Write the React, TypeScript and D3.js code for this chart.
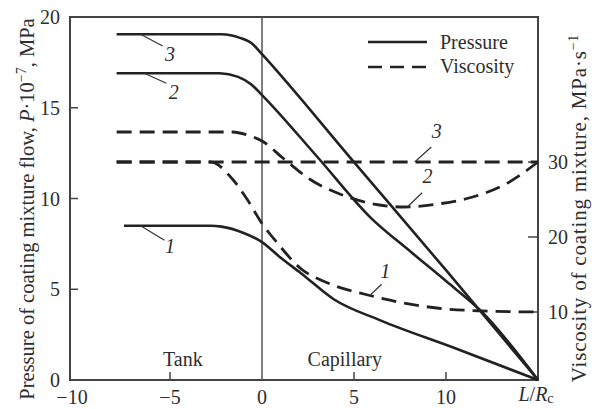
import React, { useEffect, useRef } from 'react';
import * as d3 from 'd3';

// tick values
const xTicks = [-10, -5, 0, 5, 10];
const pressureTicks = [0, 5, 10, 15, 20];
const viscosityTicks = [10, 20, 30];

// pressure curves, [L/Rc, P·10^-7 MPa]
const pressure1: [number, number][] = [
  [-7.5, 8.5], [-2.8, 8.5], [-2.2, 8.45], [-1, 8.1], [0, 7.6], [1, 6.75], [2.1, 5.9],
  [3.9, 4.45], [6.4, 3.3], [10.5, 1.75], [15, 0],
];
const pressure2: [number, number][] = [
  [-7.9, 16.9], [-2.3, 16.9], [-1.3, 16.7], [-0.6, 16.3], [0, 15.7], [3, 12.3],
  [5.9, 8.95], [8.1, 7.05], [10, 5.45], [11.9, 3.8], [15, 0],
];
const pressure3: [number, number][] = [
  [-7.9, 19.05], [-2.2, 19.05], [-1.2, 18.85], [-0.5, 18.5], [0, 17.95], [5, 12.0],
  [10, 6.05], [15, 0],
];

// viscosity curves, [L/Rc, MPa·s^-1]
const viscosity1: [number, number][] = [
  [-7.9, 30], [-2.8, 30], [-1.6, 27.7], [-0.8, 25], [0, 21.8], [0.8, 19.3], [2.1, 15.8],
  [3.55, 13.9], [5.7, 12.3], [7.5, 11.3], [9.6, 10.5], [11.9, 10.15], [15, 10],
];
const viscosity2: [number, number][] = [
  [-7.9, 34], [-1.6, 34], [-0.8, 33.6], [0, 32.8], [1.15, 30.5], [2.6, 27.7], [4.26, 25.7],
  [6.3, 24.3], [7.7, 24.0], [9.56, 24.4], [11.4, 25.3], [13.2, 27.0], [15, 30],
];
const viscosity3: [number, number][] = [[-7.9, 30], [15, 30]];

const FONT = '"Liberation Serif", "Times New Roman", serif';
const INK = '#2e2e2e';

const App = () => {
  const svgRef = useRef<SVGSVGElement>(null);

  useEffect(() => {
    const svg = d3.select(svgRef.current);
    svg.selectAll('*').remove();

    const left = 70, right = 538, top = 17, bottom = 380;

    const x = d3.scaleLinear().domain([0, 15]).range([262, 538]);
    const yP = d3.scaleLinear().domain([0, 20]).range([bottom, top]);
    const yV = d3.scaleLinear().domain([10, 30]).range([312, 162]);

    svg.append('rect').attr('width', 592).attr('height', 409).attr('fill', '#fff');

    // frame
    svg.append('rect')
      .attr('x', left).attr('y', top)
      .attr('width', right - left).attr('height', bottom - top)
      .attr('fill', 'none').attr('stroke', '#444').attr('stroke-width', 2);

    // tank / capillary divider
    svg.append('line')
      .attr('x1', x(0)).attr('x2', x(0)).attr('y1', top).attr('y2', bottom)
      .attr('stroke', '#555').attr('stroke-width', 1.5);

    // x ticks (inward)
    svg.append('g').selectAll('line')
      .data(xTicks.filter(d => d !== 0 && d !== -10))
      .enter().append('line')
      .attr('x1', d => x(d)).attr('x2', d => x(d))
      .attr('y1', bottom).attr('y2', bottom - 8)
      .attr('stroke', '#444').attr('stroke-width', 1.5);

    svg.append('g').selectAll('text')
      .data(xTicks)
      .enter().append('text')
      .attr('x', d => (d === -10 ? left + 2 : x(d)))
      .attr('y', 404)
      .attr('text-anchor', 'middle')
      .attr('font-family', FONT).attr('font-size', 20).attr('fill', INK)
      .text(d => (d < 0 ? '\u2212' + Math.abs(d) : String(d)));

    // L/Rc label
    const lr = svg.append('text')
      .attr('x', 536).attr('y', 401).attr('text-anchor', 'middle')
      .attr('font-family', FONT).attr('font-size', 20).attr('fill', INK);
    lr.append('tspan').attr('font-style', 'italic').text('L');
    lr.append('tspan').text('/');
    lr.append('tspan').attr('font-style', 'italic').text('R');
    lr.append('tspan').attr('font-size', 14).attr('dy', 2).text('c');

    // left axis ticks
    svg.append('g').selectAll('line')
      .data(pressureTicks.filter(d => d > 0 && d < 20))
      .enter().append('line')
      .attr('x1', left).attr('x2', left + 8)
      .attr('y1', d => yP(d)).attr('y2', d => yP(d))
      .attr('stroke', '#444').attr('stroke-width', 1.5);

    svg.append('g').selectAll('text')
      .data(pressureTicks)
      .enter().append('text')
      .attr('x', 60).attr('y', d => yP(d) + 7)
      .attr('text-anchor', 'end')
      .attr('font-family', FONT).attr('font-size', 20).attr('fill', INK)
      .text(d => String(d));

    // right axis ticks
    svg.append('g').selectAll('line')
      .data(viscosityTicks)
      .enter().append('line')
      .attr('x1', right - 10).attr('x2', right)
      .attr('y1', d => yV(d)).attr('y2', d => yV(d))
      .attr('stroke', '#444').attr('stroke-width', 1.5);

    svg.append('g').selectAll('text')
      .data(viscosityTicks)
      .enter().append('text')
      .attr('x', 548).attr('y', d => yV(d) + 7)
      .attr('font-family', FONT).attr('font-size', 20).attr('fill', INK)
      .text(d => String(d));

    // axis titles
    const lt = svg.append('text')
      .attr('transform', 'translate(34,209) rotate(-90)')
      .attr('text-anchor', 'middle')
      .attr('font-family', FONT).attr('font-size', 20.5).attr('fill', INK);
    lt.append('tspan').text('Pressure of coating mixture flow, ');
    lt.append('tspan').attr('font-style', 'italic').text('P');
    lt.append('tspan').text('\u00b710');
    lt.append('tspan').attr('font-size', 14).attr('dy', -8).text('\u22127');
    lt.append('tspan').attr('dy', 8).text(', MPa');

    const rt = svg.append('text')
      .attr('transform', 'translate(586,208) rotate(-90)')
      .attr('text-anchor', 'middle')
      .attr('font-family', FONT).attr('font-size', 21).attr('fill', INK)
      .attr('letter-spacing', 0.8);
    rt.append('tspan').text('Viscosity of coating mixture, MPa\u00b7s');
    rt.append('tspan').attr('font-size', 14).attr('dy', -8).text('\u22121');

    // region labels
    svg.append('text')
      .attr('x', x(-4.3)).attr('y', 366).attr('text-anchor', 'middle')
      .attr('font-family', FONT).attr('font-size', 20).attr('fill', INK)
      .text('Tank');
    svg.append('text')
      .attr('x', x(4.5)).attr('y', 366).attr('text-anchor', 'middle')
      .attr('font-family', FONT).attr('font-size', 20).attr('fill', INK)
      .text('Capillary');

    // curves
    const lineP = d3.line<[number, number]>()
      .x(d => x(d[0])).y(d => yP(d[1])).curve(d3.curveMonotoneX);
    const lineV = d3.line<[number, number]>()
      .x(d => x(d[0])).y(d => yV(d[1])).curve(d3.curveMonotoneX);

    [pressure1, pressure2, pressure3].forEach(s => {
      svg.append('path').attr('d', lineP(s))
        .attr('fill', 'none').attr('stroke', '#222').attr('stroke-width', 2.6);
    });
    [viscosity1, viscosity2, viscosity3].forEach(s => {
      svg.append('path').attr('d', lineV(s))
        .attr('fill', 'none').attr('stroke', '#222').attr('stroke-width', 2.8)
        .attr('stroke-dasharray', '15,8');
    });

    // curve number labels with leader lines [x0,y0,x1,y1, tx, ty] in data units
    const pressureLabels: [string, number, number, number, number, number, number][] = [
      ['3', -6.6, 19.05, -5.4, 18.4, -5.0, 17.6],
      ['2', -6.4, 16.9, -5.2, 16.35, -4.8, 15.5],
      ['1', -6.6, 8.5, -5.3, 7.7, -5.0, 7.0],
    ];
    const viscosityLabels: [string, number, number, number, number, number, number][] = [
      ['3', 8.3, 30, 9.2, 32, 9.5, 33.2],
      ['2', 7.9, 24, 8.7, 25.9, 9.0, 27.2],
      ['1', 5.9, 12.3, 6.5, 13.7, 6.7, 14.5],
    ];

    const drawLabels = (
      data: [string, number, number, number, number, number, number][],
      y: d3.ScaleLinear<number, number>,
    ) => {
      data.forEach(([t, x0, y0, x1, y1, tx, ty]) => {
        svg.append('line')
          .attr('x1', x(x0)).attr('y1', y(y0)).attr('x2', x(x1)).attr('y2', y(y1))
          .attr('stroke', '#333').attr('stroke-width', 1.2);
        svg.append('text')
          .attr('x', x(tx)).attr('y', y(ty)).attr('text-anchor', 'middle')
          .attr('font-family', FONT).attr('font-size', 20).attr('font-style', 'italic')
          .attr('fill', INK)
          .text(t);
      });
    };
    drawLabels(pressureLabels, yP);
    drawLabels(viscosityLabels, yV);

    // legend
    const legend = svg.append('g');
    legend.append('line')
      .attr('x1', 368).attr('x2', 427).attr('y1', 42).attr('y2', 42)
      .attr('stroke', '#222').attr('stroke-width', 2.6);
    legend.append('line')
      .attr('x1', 368).attr('x2', 427).attr('y1', 67).attr('y2', 67)
      .attr('stroke', '#222').attr('stroke-width', 2.6)
      .attr('stroke-dasharray', '14,8');
    legend.append('text')
      .attr('x', 440).attr('y', 49)
      .attr('font-family', FONT).attr('font-size', 20).attr('fill', INK)
      .text('Pressure');
    legend.append('text')
      .attr('x', 440).attr('y', 73)
      .attr('font-family', FONT).attr('font-size', 20).attr('fill', INK)
      .text('Viscosity');
  }, []);

  return (
    <svg
      ref={svgRef}
      width={592}
      height={409}
      style={{ position: 'absolute', left: 0, top: 0 }}
    />
  );
};

export default App;
